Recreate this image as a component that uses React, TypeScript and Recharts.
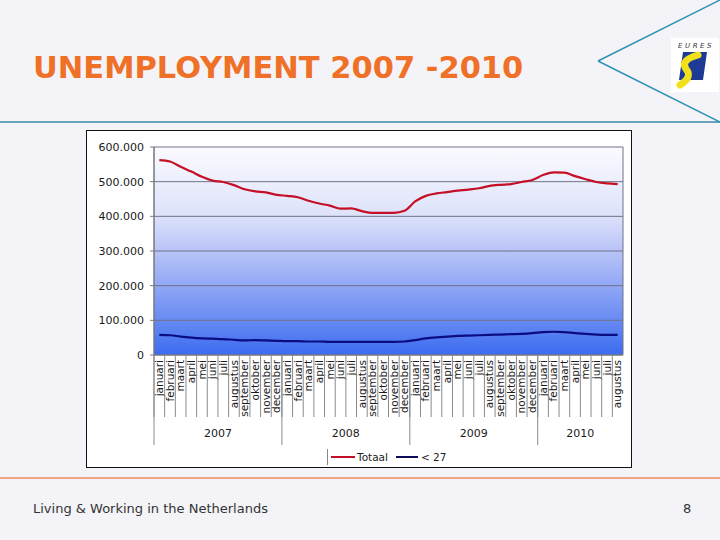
import { LineChart, Line, XAxis, YAxis, CartesianGrid } from "recharts";

const months = [
  "januari", "februari", "maart", "april", "mei", "juni",
  "juli", "augustus", "september", "oktober", "november", "december",
];
const years = [2007, 2008, 2009, 2010];
const monthsPerYear = [12, 12, 12, 8];

// werkloosheid totaal (per maand, jan 2007 - aug 2010)
const totaal = [
  562000, 558000, 543000, 529000, 514000, 503000, 499000, 490000, 478000, 472000, 469000, 462000,
  459000, 455000, 445000, 437000, 431000, 422000, 423000, 415000, 410000, 410000, 410000, 416000,
  443000, 459000, 466000, 470000, 474000, 477000, 481000, 488000, 491000, 493000, 499000, 505000,
  519000, 527000, 526000, 516000, 507000, 499000, 495000, 493000,
];

// jongeren < 27
const onder27 = [
  58000, 57000, 53000, 50000, 48000, 47000, 46000, 44000, 42000, 43000, 42000, 41000,
  40000, 40000, 39000, 39000, 38000, 38000, 38000, 38000, 38000, 38000, 38000, 39000,
  43000, 48000, 51000, 53000, 55000, 56000, 57000, 58000, 59000, 60000, 61000, 63000,
  66000, 67000, 66000, 63000, 61000, 59000, 58000, 58000,
];

const yTicks = [0, 100000, 200000, 300000, 400000, 500000, 600000];

const categories = years.flatMap((year, k) =>
  months.slice(0, monthsPerYear[k]).map((month, pos) => ({
    month,
    year,
    pos,
    size: monthsPerYear[k],
  }))
);

const data = categories.map((c, i) => ({
  i,
  month: c.month,
  totaal: totaal[i],
  onder27: onder27[i],
}));

const indexes = data.map((d) => d.i);

const CHART_W = 544;
const CHART_H = 336;
const MARGIN = { top: 16, right: 8, left: 0, bottom: 0 };
const Y_W = 67;
const PLOT_W = CHART_W - MARGIN.left - MARGIN.right - Y_W;
const BW = PLOT_W / categories.length;

const font = '"DejaVu Sans", Verdana, sans-serif';

const fmt = (v: number) =>
  String(v).replace(/\B(?=(\d{3})+(?!\d))/g, ".");

function MonthTick(props: any) {
  const { x, y, payload } = props;
  const c = categories[payload.value];
  if (!c) return null;
  const left = x - BW / 2;
  const mid = Math.floor((c.size - 1) / 2);
  return (
    <g>
      <line x1={left} x2={left} y1={y} y2={y + 62} stroke="#8a8a8a" />
      {c.pos === 0 && (
        <line x1={left} x2={left} y1={y} y2={y + 90} stroke="#8a8a8a" />
      )}
      <text
        transform={`translate(${x},${y + 5}) rotate(-90)`}
        textAnchor="end"
        dy="0.35em"
        fontSize={10.5}
        fontFamily={font}
        fill="#1a1a1a"
      >
        {c.month}
      </text>
      {c.pos === mid && (
        <text
          x={x + (c.size / 2 - c.pos - 0.5) * BW}
          y={y + 82}
          textAnchor="middle"
          fontSize={11}
          fontFamily={font}
          fill="#1a1a1a"
        >
          {c.year}
        </text>
      )}
    </g>
  );
}

function Logo() {
  return (
    <svg
      width={48}
      height={54}
      style={{ position: "absolute", left: 671, top: 38 }}
    >
      <rect width={48} height={54} fill="#ffffff" />
      <text
        x={25}
        y={10}
        textAnchor="middle"
        fontSize={7}
        letterSpacing={2.5}
        fontStyle="italic"
        fontFamily={font}
        fill="#333"
      >
        EURES
      </text>
      <polygon points="12,14 36,14 32,42 8,42" fill="#1d3a94" />
      <path
        d="M27 17 Q9 22 15 31 Q22 39 9 47"
        stroke="#f2e11a"
        strokeWidth={7}
        fill="none"
        strokeLinecap="round"
      />
    </svg>
  );
}

export default function App() {
  return (
    <div
      style={{
        position: "absolute",
        left: 0,
        top: 0,
        width: 720,
        height: 540,
        overflow: "hidden",
        background: "#f4f4f8",
        fontFamily: font,
      }}
    >
      <svg
        width={720}
        height={540}
        style={{ position: "absolute", left: 0, top: 0 }}
      >
        <line x1={0} x2={720} y1={122} y2={122} stroke="#3b8aa6" strokeWidth={1.5} />
        <line x1={598} x2={720} y1={61} y2={0} stroke="#2f93b5" strokeWidth={1.5} />
        <line x1={598} x2={720} y1={61} y2={122} stroke="#2f93b5" strokeWidth={1.5} />
        <line x1={0} x2={720} y1={478} y2={478} stroke="#ef8c5c" strokeWidth={1.5} />
      </svg>

      <div
        style={{
          position: "absolute",
          left: 33,
          top: 50,
          fontSize: 30.5,
          fontWeight: "bold",
          color: "#ef7128",
          whiteSpace: "nowrap",
        }}
      >
        UNEMPLOYMENT 2007 -2010
      </div>

      <Logo />

      <div
        style={{
          position: "absolute",
          left: 86,
          top: 130,
          width: 546,
          height: 338,
          background: "#ffffff",
          border: "1px solid #111",
          boxSizing: "border-box",
        }}
      >
        <LineChart width={CHART_W} height={CHART_H} data={data} margin={MARGIN}>
          <defs>
            <linearGradient id="plotGrad" x1="0" y1="0" x2="0" y2="1">
              <stop offset="0" stopColor="#fbfbff" />
              <stop offset="0.33" stopColor="#dde2fa" />
              <stop offset="0.5" stopColor="#b8c4f7" />
              <stop offset="0.67" stopColor="#90a7f5" />
              <stop offset="0.83" stopColor="#688bf3" />
              <stop offset="1" stopColor="#3b6bf0" />
            </linearGradient>
          </defs>
          <CartesianGrid
            fill="url(#plotGrad)"
            fillOpacity={1}
            stroke="#6f7388"
            strokeDasharray=""
            verticalCoordinatesGenerator={({ offset }: any) => [
              offset.left,
              offset.left + offset.width,
            ]}
          />
          <XAxis
            type="number"
            dataKey="i"
            domain={[-0.5, categories.length - 0.5]}
            ticks={indexes}
            interval={0}
            height={112}
            tickSize={0}
            tickMargin={0}
            axisLine={{ stroke: "#7a7a7a" }}
            tick={<MonthTick />}
          />
          <YAxis
            width={Y_W}
            domain={[0, 600000]}
            ticks={yTicks}
            tickFormatter={fmt}
            tickSize={4}
            tickMargin={6}
            axisLine={{ stroke: "#7a7a7a" }}
            tickLine={{ stroke: "#7a7a7a" }}
            tick={{ fontSize: 11, fill: "#1a1a1a", fontFamily: font }}
          />
          <Line
            type="monotone"
            dataKey="totaal"
            name="Totaal"
            stroke="#c40f26"
            strokeWidth={2.2}
            dot={false}
            isAnimationActive={false}
          />
          <Line
            type="monotone"
            dataKey="onder27"
            name="< 27"
            stroke="#0b0b82"
            strokeWidth={2.2}
            dot={false}
            isAnimationActive={false}
          />
        </LineChart>
      </div>

      <div
        style={{
          position: "absolute",
          left: 327,
          top: 449,
          height: 16,
          display: "flex",
          alignItems: "center",
          borderLeft: "1px solid #888",
          paddingLeft: 3,
          fontSize: 10.5,
          color: "#222",
        }}
      >
        <span style={{ width: 24, height: 2, background: "#c40f26", display: "inline-block" }} />
        <span style={{ marginLeft: 2 }}>Totaal</span>
        <span
          style={{
            width: 22,
            height: 2,
            background: "#0b0b5a",
            display: "inline-block",
            marginLeft: 8,
          }}
        />
        <span style={{ marginLeft: 3 }}>&lt; 27</span>
      </div>

      <div
        style={{
          position: "absolute",
          left: 33,
          top: 501,
          fontSize: 13,
          color: "#333",
          whiteSpace: "nowrap",
        }}
      >
        Living &amp; Working in the Netherlands
      </div>
      <div
        style={{
          position: "absolute",
          left: 683,
          top: 501,
          fontSize: 13,
          color: "#333",
        }}
      >
        8
      </div>
    </div>
  );
}
